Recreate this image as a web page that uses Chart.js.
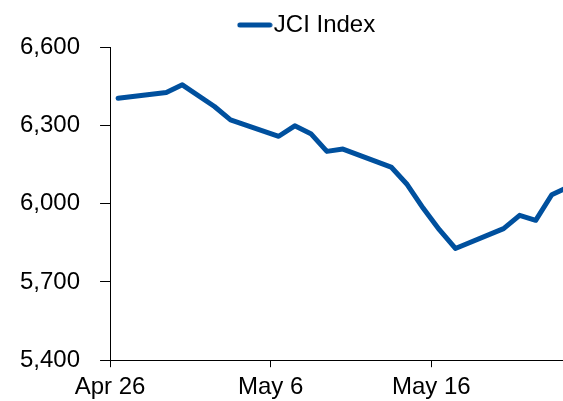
<!DOCTYPE html>
<html>
<head>
<meta charset="utf-8">
<script src="https://cdn.jsdelivr.net/npm/chart.js@4"></script>
<style>
  html, body { margin: 0; padding: 0; background: #fff; overflow: hidden; }
  #wrap { width: 563px; height: 401px; position: relative; }
</style>
</head>
<body>
<div id="wrap"><canvas id="jci_chart"></canvas></div>
<script>
  // JCI index, trading days Apr 26 - May 24
  const dates = [
    "2019-04-26", "2019-04-29", "2019-04-30", "2019-05-02", "2019-05-03",
    "2019-05-06", "2019-05-07", "2019-05-08", "2019-05-09", "2019-05-10",
    "2019-05-13", "2019-05-14", "2019-05-15", "2019-05-16", "2019-05-17",
    "2019-05-20", "2019-05-21", "2019-05-22", "2019-05-23", "2019-05-24",
  ];
  const jciValues = [
    6404, 6426, 6455, 6372, 6321,
    6258, 6298, 6268, 6200, 6209,
    6140, 6073, 5982, 5900, 5828,
    5904, 5955, 5936, 6034, 6062,
  ];
  const tickDays = [0, 10, 20];
  const tickLabels = ["Apr 26", "May 6", "May 16"];
  const yTicks = [5400, 5700, 6000, 6300, 6600];

  const lineColor = "#00509E";
  const dayMs = 86400000;
  const start = Date.parse(dates[0]);
  // points sit in the middle of each day slot
  const points = dates.map(function (d, i) {
    return { x: (Date.parse(d) - start) / dayMs + 0.5, y: jciValues[i] };
  });

  const font = { family: "'Liberation Sans', Arial, sans-serif", size: 24 };

  // legend swatch: short thick line, drawn close to the text
  const swatch = document.createElement("canvas");
  swatch.width = 36;
  swatch.height = 8;
  const sctx = swatch.getContext("2d");
  sctx.strokeStyle = lineColor;
  sctx.lineWidth = 5;
  sctx.lineCap = "round";
  sctx.beginPath();
  sctx.moveTo(3, 4);
  sctx.lineTo(33, 4);
  sctx.stroke();

  const shiftLegend = {
    id: "shiftLegend",
    afterLayout: function (chart) {
      chart.legend.left += 30;
      chart.legend.right += 30;
    },
  };

  const jciChart = new Chart(document.getElementById("jci_chart"), {
    type: "line",
    data: {
      datasets: [
        {
          label: "JCI Index",
          data: points,
          borderColor: lineColor,
          backgroundColor: lineColor,
          borderWidth: 5,
          borderCapStyle: "round",
          borderJoinStyle: "round",
          tension: 0,
          fill: false,
          pointRadius: 0,
        },
      ],
    },
    options: {
      responsive: true,
      maintainAspectRatio: false,
      animation: false,
      layout: {
        padding: { left: 0, right: 0, top: 3, bottom: -7 },
      },
      plugins: {
        legend: {
          display: true,
          position: "top",
          labels: {
            usePointStyle: true,
            pointStyle: swatch,
            pointStyleWidth: 14,
            color: "#000",
            font: font,
            padding: 10,
          },
        },
        tooltip: { enabled: false },
      },
      scales: {
        x: {
          type: "linear",
          min: 0,
          max: 28.2,
          afterBuildTicks: function (scale) {
            scale.ticks = tickDays.map(function (v) {
              return { value: v };
            });
          },
          grid: {
            display: true,
            drawOnChartArea: false,
            tickLength: 7,
            color: "#000",
          },
          border: { display: true, color: "#000", width: 1 },
          ticks: {
            color: "#000",
            font: font,
            padding: 6,
            maxRotation: 0,
            autoSkip: false,
            callback: function (value) {
              return tickLabels[tickDays.indexOf(value)];
            },
          },
        },
        y: {
          min: yTicks[0],
          max: yTicks[yTicks.length - 1],
          afterBuildTicks: function (scale) {
            scale.ticks = yTicks.map(function (v) {
              return { value: v };
            });
          },
          grid: {
            display: true,
            drawOnChartArea: false,
            tickLength: 10,
            color: "#000",
          },
          border: { display: true, color: "#000", width: 1 },
          ticks: {
            color: "#000",
            font: font,
            padding: 20,
            callback: function (value) {
              return value.toLocaleString("en-US");
            },
          },
        },
      },
    },
    plugins: [shiftLegend],
  });
</script>
</body>
</html>
